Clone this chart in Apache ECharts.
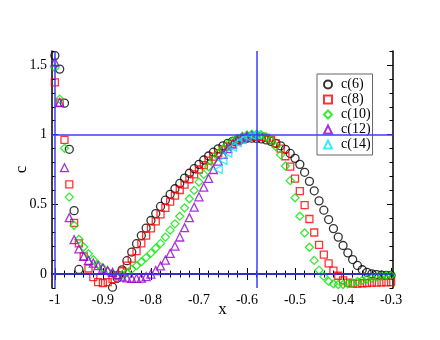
<!DOCTYPE html>
<html lang="en">
<head>
    <meta charset="utf-8">
    <script src="https://cdn.jsdelivr.net/npm/echarts@6/dist/echarts.min.js"></script>
    <title>c vs x</title>
    <style>
        html, body { margin: 0; padding: 0; background: #fff; }
        #main { width: 440px; height: 340px; }
    </style>
</head>
<body>
<div id="main"></div>
<script type="text/javascript">
    // x grid shared by all series
    var xs = [-1.00, -0.99, -0.98, -0.97, -0.96, -0.95, -0.94, -0.93, -0.92, -0.91,
        -0.90, -0.89, -0.88, -0.87, -0.86, -0.85, -0.84, -0.83, -0.82, -0.81,
        -0.80, -0.79, -0.78, -0.77, -0.76, -0.75, -0.74, -0.73, -0.72, -0.71,
        -0.70, -0.69, -0.68, -0.67, -0.66, -0.65, -0.64, -0.63, -0.62, -0.61,
        -0.60, -0.59, -0.58, -0.57, -0.56, -0.55, -0.54, -0.53, -0.52, -0.51,
        -0.50, -0.49, -0.48, -0.47, -0.46, -0.45, -0.44, -0.43, -0.42, -0.41,
        -0.40, -0.39, -0.38, -0.37, -0.36, -0.35, -0.34, -0.33, -0.32, -0.31,
        -0.30];

    // null = point not visible in the plot
    var c6 = [1.567, 1.47, 1.226, 0.895, 0.455, 0.033, null, null, null, null,
        null, null, -0.094, -0.03, 0.03, 0.096, 0.158, 0.218, 0.276, 0.33,
        0.384, 0.434, 0.485, 0.53, 0.572, 0.612, 0.65, 0.688, 0.723, 0.756,
        0.787, 0.818, 0.847, 0.874, 0.898, 0.92, 0.938, 0.952, 0.963, 0.97,
        0.974, 0.975, 0.973, 0.969, 0.962, 0.952, 0.938, 0.92, 0.895, 0.865,
        0.83, 0.787, 0.73, 0.665, 0.597, 0.525, 0.458, 0.391, 0.326, 0.265,
        0.205, 0.152, 0.104, 0.062, 0.031, 0.012, 0.002, -0.004, -0.008, -0.01,
        -0.01];
    var c8 = [1.375, 1.23, 0.962, 0.643, 0.367, 0.22, 0.127, 0.04, -0.022, -0.058,
        -0.065, -0.058, -0.036, -0.008, 0.02, 0.06, 0.11, 0.165, 0.22, 0.275,
        0.328, 0.378, 0.428, 0.475, 0.52, 0.562, 0.603, 0.642, 0.68, 0.715,
        0.75, 0.782, 0.813, 0.842, 0.868, 0.893, 0.915, 0.935, 0.952, 0.966,
        0.977, 0.984, 0.987, 0.985, 0.977, 0.962, 0.938, 0.9, 0.845, 0.77,
        0.685, 0.595, 0.495, 0.395, 0.298, 0.21, 0.14, 0.077, 0.024, -0.012,
        -0.045, -0.062, -0.068, -0.068, -0.066, -0.064, -0.062, -0.062, -0.06, -0.06,
        -0.058];
    var c10 = [1.48, 1.255, 0.902, 0.552, 0.35, 0.25, 0.194, 0.146, 0.103, 0.067,
        0.043, 0.019, 0.002, -0.01, -0.005, 0.008, 0.035, 0.06, 0.088, 0.118,
        0.15, 0.185, 0.22, 0.265, 0.315, 0.36, 0.415, 0.475, 0.54, 0.6,
        0.66, 0.715, 0.77, 0.818, 0.862, 0.898, 0.93, 0.955, 0.973, 0.988,
        0.998, 1.003, 1.003, 0.998, 0.985, 0.96, 0.915, 0.855, 0.775, 0.67,
        0.547, 0.415, 0.295, 0.192, 0.098, 0.028, -0.017, -0.053, -0.07, -0.075,
        -0.075, -0.07, -0.062, -0.053, -0.045, -0.036, -0.028, -0.02, -0.015, -0.012,
        -0.01];
    var c12 = [1.52, 1.23, 0.763, 0.405, 0.247, 0.18, 0.127, 0.098, 0.079, 0.06,
        0.043, 0.026, 0.012, -0.005, -0.02, -0.028, -0.031, -0.031, -0.029, -0.018,
        0.0, 0.025, 0.058, 0.1, 0.148, 0.2, 0.266, 0.333, 0.405, 0.48,
        0.554, 0.623, 0.686, 0.75, 0.81, 0.858, 0.9, 0.932, 0.96, 0.979,
        0.99, 0.995, null, null, null, null, null, null, null, null,
        null, null, null, null, null, null, null, null, null, null,
        null, null, null, null, null, null, null, null, null, null,
        null];
    var c14 = [null, null, null, null, null, null, null, null, null, null,
        null, null, null, null, null, null, null, null, null, null,
        null, null, null, null, null, null, null, null, null, null,
        null, null, null, null, 0.75, 0.815, 0.868, 0.91, 0.942, 0.965,
        0.982, 0.994, 1.0, null, null, null, null, null, null, null,
        null, null, null, null, null, null, null, null, null, null,
        null, null, null, null, null, null, null, null, null, null,
        null];

    var xMajor = [-1, -0.9, -0.8, -0.7, -0.6, -0.5, -0.4, -0.3];
    var xMinor = [-0.98, -0.96, -0.94, -0.92, -0.88, -0.86, -0.84, -0.82,
        -0.78, -0.76, -0.74, -0.72, -0.68, -0.66, -0.64, -0.62,
        -0.58, -0.56, -0.54, -0.52, -0.48, -0.46, -0.44, -0.42,
        -0.38, -0.36, -0.34, -0.32];
    var yMajor = [0, 0.5, 1, 1.5];
    var yMinor = [-0.1, 0.1, 0.2, 0.3, 0.4, 0.6, 0.7, 0.8, 0.9, 1.1, 1.2, 1.3, 1.4, 1.6];

    // blue reference lines
    var refX = [-1, -0.577];
    var refY = [0, 1];

    var FONT = 'Liberation Serif';
    var X_MIN = -1.006, X_MAX = -0.296, Y_MIN = -0.1, Y_MAX = 1.6;

    function pairs(ys) {
        var out = [];
        for (var i = 0; i < xs.length; i++) {
            if (ys[i] !== null) out.push([xs[i], ys[i]]);
        }
        return out;
    }

    function xAxisDef(pos, ticks, len, withLabel) {
        return {
            type: 'value', position: pos, min: X_MIN, max: X_MAX,
            name: withLabel ? 'x' : '', nameLocation: 'middle', nameGap: 13,
            nameMoveOverlap: false,
            nameTextStyle: {fontFamily: FONT, fontSize: 17, color: '#000'},
            axisLine: {show: withLabel, lineStyle: {color: '#000', width: 1.5}},
            axisTick: {show: true, inside: true, length: len, customValues: ticks,
                lineStyle: {color: '#000', width: 1}},
            axisLabel: {show: withLabel, customValues: ticks, margin: 5,
                fontFamily: FONT, fontSize: 14, color: '#000'},
            splitLine: {show: false}
        };
    }

    function yAxisDef(pos, ticks, len, withLabel) {
        return {
            type: 'value', position: pos, min: Y_MIN, max: Y_MAX,
            name: withLabel ? 'c' : '', nameLocation: 'middle', nameGap: 22, nameRotate: 90,
            nameMoveOverlap: false,
            nameTextStyle: {fontFamily: FONT, fontSize: 17, color: '#000'},
            axisLine: {show: withLabel, lineStyle: {color: '#000', width: 1.5}},
            axisTick: {show: true, inside: true, length: len, customValues: ticks,
                lineStyle: {color: '#000', width: 1}},
            axisLabel: {show: withLabel, customValues: ticks, margin: 5,
                fontFamily: FONT, fontSize: 14, color: '#000'},
            splitLine: {show: false}
        };
    }

    function scatter(name, ys, symbol, color, size, rotate) {
        return {
            name: name, type: 'scatter', z: 3,
            symbol: symbol, symbolSize: size, symbolRotate: rotate || 0,
            itemStyle: {color: 'rgba(0,0,0,0)', borderColor: color, borderWidth: 1.3},
            emphasis: {disabled: true},
            data: pairs(ys)
        };
    }

    var xAxes = [
        xAxisDef('bottom', xMajor, 6, true),
        xAxisDef('bottom', xMinor, 3.5, false),
        xAxisDef('top', xMajor, 6, false),
        xAxisDef('top', xMinor, 3.5, false)
    ];
    // top axis line
    xAxes[2].axisLine = {show: true, lineStyle: {color: '#000', width: 1.5}};

    var yAxes = [
        yAxisDef('left', yMajor, 6, true),
        yAxisDef('left', yMinor, 3.5, false),
        yAxisDef('right', yMajor, 6, false),
        yAxisDef('right', yMinor, 3.5, false)
    ];
    yAxes[2].axisLine = {show: true, lineStyle: {color: '#000', width: 1.5}};

    var refLines = [];
    refX.forEach(function (v) { refLines.push({xAxis: v}); });
    refY.forEach(function (v) { refLines.push({yAxis: v}); });

    var option = {
        animation: false,
        backgroundColor: '#fff',
        grid: {left: 52, right: 47, top: 51, bottom: 52},
        xAxis: xAxes,
        yAxis: yAxes,
        legend: {
            orient: 'vertical', left: 317, top: 74,
            data: ['c(6)', 'c(8)', 'c(10)', 'c(12)', 'c(14)'],
            padding: [3, 2, 3, 6],
            itemGap: 0, itemWidth: 8, itemHeight: 8,
            borderColor: '#666', borderWidth: 1, borderRadius: 0,
            backgroundColor: '#fff',
            selectedMode: false,
            textStyle: {fontFamily: FONT, fontSize: 14, color: '#000', lineHeight: 15,
                padding: [0, 0, 0, 4]}
        },
        series: [
            {
                name: 'ref', type: 'scatter', z: 1, data: [], silent: true,
                markLine: {
                    silent: true, symbol: 'none', animation: false,
                    label: {show: false},
                    lineStyle: {color: '#3c3cff', width: 1.5, type: 'solid'},
                    data: refLines
                }
            },
            scatter('c(6)', c6, 'circle', '#000000', 8),
            scatter('c(8)', c8, 'rect', '#ff0000', 7),
            scatter('c(10)', c10, 'diamond', '#00e800', 8),
            scatter('c(12)', c12, 'triangle', '#9400d3', 8),
            scatter('c(14)', c14, 'triangle', '#00e8ff', 8, 90)
        ]
    };

    var myChart = echarts.init(document.getElementById('main'), null, {renderer: 'canvas'});
    myChart.setOption(option);
</script>
</body>
</html>
